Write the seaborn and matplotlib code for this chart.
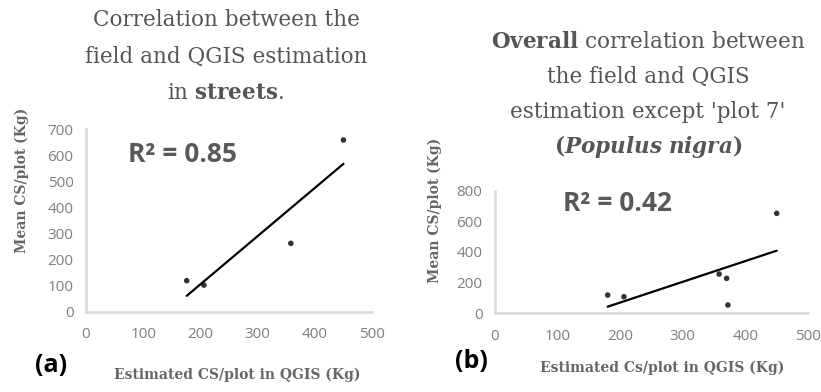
import matplotlib
matplotlib.use("Agg")
import matplotlib.pyplot as plt
import seaborn as sns
import numpy as np
import pandas as pd

# Data (a) streets
a_x = [176, 206, 358, 450]
a_y = [119, 102, 262, 658]
# Data (b) overall except plot 7
b_x = [180, 206, 358, 370, 372, 450]
b_y = [119, 108, 256, 228, 54, 652]

a_xticks = [0, 100, 200, 300, 400, 500]
a_yticks = [0, 100, 200, 300, 400, 500, 600, 700]
b_xticks = [0, 100, 200, 300, 400, 500]
b_yticks = [0, 200, 400, 600, 800]

sns.set_theme(style="white")
plt.rcParams['mathtext.fontset'] = 'custom'
plt.rcParams['mathtext.rm'] = 'DejaVu Serif'
plt.rcParams['mathtext.bf'] = 'DejaVu Serif:bold'
plt.rcParams['mathtext.it'] = 'DejaVu Serif:italic'
plt.rcParams['mathtext.bfit'] = 'DejaVu Serif:bold:italic'

fig = plt.figure(figsize=(8.21, 3.92), dpi=100)
ax1 = fig.add_axes([0.1048, 0.2048, 0.3484, 0.466])
ax2 = fig.add_axes([0.6029, 0.2008, 0.3813, 0.3128])

spine_col = '#d9d9d9'
tick_col = '#7f7f7f'
text_col = '#595959'

dfa = pd.DataFrame({'x': a_x, 'y': a_y})
dfb = pd.DataFrame({'x': b_x, 'y': b_y})

for ax, df, xt, yt, ylim in [(ax1, dfa, a_xticks, a_yticks, 700), (ax2, dfb, b_xticks, b_yticks, 800)]:
    sns.regplot(data=df, x='x', y='y', ax=ax, ci=None, truncate=True,
                scatter_kws=dict(s=16, color='black', edgecolor='none'),
                line_kws=dict(color='black', lw=1.6))
    ax.set_xlim(0, 500)
    ax.set_ylim(0, ylim)
    ax.set_xticks(xt)
    ax.set_yticks(yt)
    for s in ['top', 'right']:
        ax.spines[s].set_visible(False)
    for s in ['left', 'bottom']:
        ax.spines[s].set_color(spine_col)
        ax.spines[s].set_linewidth(1.8)
    ax.tick_params(axis='both', length=0, labelsize=11, labelcolor=tick_col,
                   labelfontfamily='Open Sans')
    ax.tick_params(axis='x', pad=11)
    ax.tick_params(axis='y', pad=9)
    ax.set_xlabel('')
    ax.set_ylabel('')
    ax.set_facecolor('none')

# R^2 annotations
fig.text(128/821, 1-155/392, 'R\u00b2 = 0.85', fontsize=19, fontweight='bold',
         color=text_col, family='Open Sans', va='center', ha='left')
fig.text(563/821, 1-203/392, 'R\u00b2 = 0.42', fontsize=19, fontweight='bold',
         color=text_col, family='Open Sans', va='center', ha='left')

# axis labels
lab_kw = dict(family='DejaVu Serif', fontweight='bold', color='#666666', fontsize=10)
fig.text(237/821, 1-375/392, 'Estimated CS/plot in QGIS (Kg)', ha='center', va='center', **lab_kw)
fig.text(662/821, 1-368/392, 'Estimated Cs/plot in QGIS (Kg)', ha='center', va='center', **lab_kw)
fig.text(22/821, 1-180/392, 'Mean CS/plot (Kg)', rotation=90, ha='center', va='center', **lab_kw)
fig.text(435/821, 1-210/392, 'Mean CS/plot (Kg)', rotation=90, ha='center', va='center', **lab_kw)

# panel labels
fig.text(51/821, 1-366/392, '(a)', fontsize=18, fontweight='bold', family='Open Sans',
         color='black', ha='center', va='center')
fig.text(471/821, 1-361/392, '(b)', fontsize=18, fontweight='bold', family='Open Sans',
         color='black', ha='center', va='center')

# titles
t_kw = dict(family='DejaVu Serif', color='#555555', fontsize=15.5, ha='center', va='center')
fig.text(226/821, 1-20/392, 'Correlation between the', **t_kw)
fig.text(226/821, 1-57/392, 'field and QGIS estimation', **t_kw)
fig.text(226/821, 1-93/392, r'in $\mathbf{streets}$.', **t_kw)

fig.text(648/821, 1-42/392, r'$\mathbf{Overall}$ correlation between', **t_kw)
fig.text(648/821, 1-77/392, 'the field and QGIS', **t_kw)
fig.text(648/821, 1-112/392, "estimation except 'plot 7'", **t_kw)
fig.text(648/821, 1-147/392, r'$\mathbf{(}\mathbfit{Populus\ nigra}\mathbf{)}$', **t_kw)

fig.savefig('out.png', dpi=100, facecolor='white')
